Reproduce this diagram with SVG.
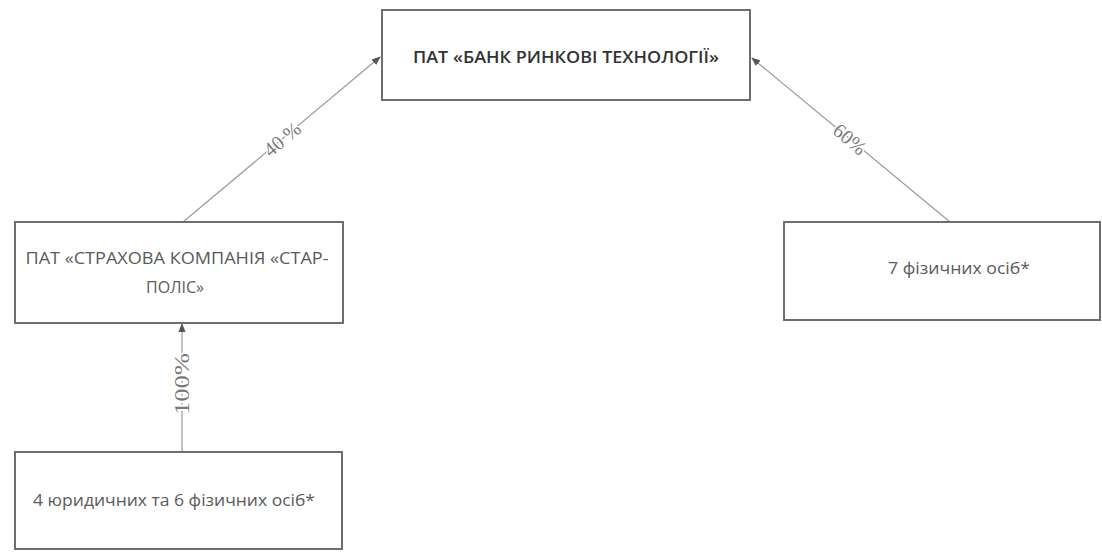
<svg xmlns="http://www.w3.org/2000/svg" width="1102" height="552" viewBox="0 0 1102 552">
<defs>
<style>
.box{fill:#fff;stroke:#6e6e6e;stroke-width:2}
.t{font-family:"Open Sans","Noto Sans",sans-serif;fill:#5a5a5a;text-anchor:middle}
.tb{font-family:"Open Sans","Noto Sans",sans-serif;fill:#333;text-anchor:middle;font-weight:600}
.c{stroke:#9a9a9a;stroke-width:1.2;fill:none;marker-end:url(#ah)}
.lbl{font-family:"Liberation Serif",serif;fill:#7a7a7a;font-size:20px;text-anchor:middle;stroke:#fff;stroke-width:3;paint-order:stroke}
</style>
<marker id="ah" viewBox="0 0 10 10" refX="9" refY="5" markerWidth="9" markerHeight="9" markerUnits="userSpaceOnUse" orient="auto">
<path d="M0,1 L10,5 L0,9 Z" fill="#555"/>
</marker>
</defs>
<rect width="1102" height="552" fill="#fff"/>
<g id="connectors">
<line class="c" x1="183" y1="222" x2="380" y2="57"/>
<line class="c" x1="950" y1="222" x2="752" y2="58"/>
<line class="c" x1="182" y1="452" x2="182" y2="324"/>
<text class="lbl" transform="translate(282,139) rotate(-40)" dy="0.35em">40 %</text>
<text class="lbl" transform="translate(850,139) rotate(40)" dy="0.35em">60%</text>
<text class="lbl" transform="translate(182,384) rotate(-90)" dy="0.35em" font-size="22" textLength="62" lengthAdjust="spacingAndGlyphs">100%</text>
</g>
<g id="bank">
<rect class="box" x="382" y="10" width="368" height="90"/>
<text class="tb" x="566" y="63" font-size="16" textLength="306" lengthAdjust="spacingAndGlyphs">ПАТ «БАНК РИНКОВІ ТЕХНОЛОГІЇ»</text>
</g>
<g id="insurance">
<rect class="box" x="15" y="222" width="328" height="101"/>
<text class="t" x="177" y="264" font-size="16" textLength="303" lengthAdjust="spacingAndGlyphs">ПАТ «СТРАХОВА КОМПАНІЯ «СТАР-</text>
<text class="t" x="175" y="293" font-size="16">ПОЛІС»</text>
</g>
<g id="persons7">
<rect class="box" x="784" y="222" width="316" height="98"/>
<text class="t" x="959" y="274" font-size="16" textLength="142" lengthAdjust="spacingAndGlyphs">7 фізичних осіб*</text>
</g>
<g id="owners">
<rect class="box" x="15" y="452" width="327" height="97"/>
<text class="t" x="174" y="506" font-size="16" textLength="282" lengthAdjust="spacingAndGlyphs">4 юридичних та 6 фізичних осіб*</text>
</g>
</svg>
